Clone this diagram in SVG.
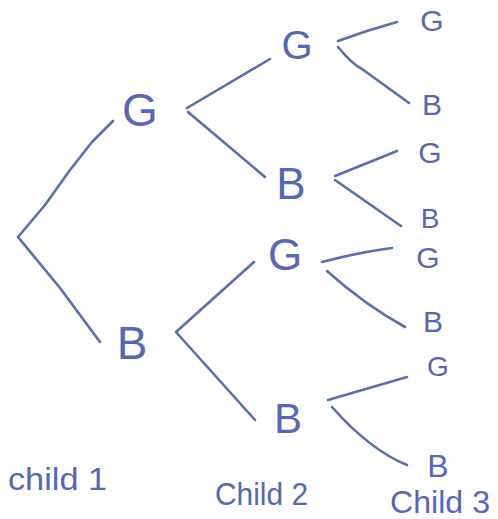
<svg xmlns="http://www.w3.org/2000/svg" width="498" height="519" viewBox="0 0 498 519">
<style>
.e{fill:none;stroke:#5a6cb8;stroke-width:2.6;stroke-linecap:round;stroke-linejoin:round}
text{font-family:"Liberation Sans",Arial,sans-serif;fill:#5667b6;text-anchor:middle}
.lab{text-anchor:start}
</style>
<rect width="498" height="519" fill="#ffffff"/>
<g id="connectors">
<path class="e" d="M113,121 L92,142 L70,170 L45,205 L18,237 L60,288 L100,342"/>
<path class="e" d="M270,59 L187,108"/>
<path class="e" d="M188,112 L265,177"/>
<path class="e" d="M254,262 L176,332 L255,420"/>
<path class="e" d="M338,41 Q368,30 397,22"/>
<path class="e" d="M338,47 Q352,64 362,69 L409,103"/>
<path class="e" d="M335,176 L397,151"/>
<path class="e" d="M335,180 L401,226"/>
<path class="e" d="M322,262 Q360,252 392,248"/>
<path class="e" d="M327,271 Q365,305 405,327"/>
<path class="e" d="M328,400 L407,377"/>
<path class="e" d="M332,407 Q370,450 407,465"/>
</g>
<g id="g1"><text x="140" y="126" font-size="46">G</text></g>
<g id="b1"><text x="132" y="359" font-size="46">B</text></g>
<g id="g2a"><text x="297" y="59" font-size="40">G</text></g>
<g id="b2a"><text x="291" y="199" font-size="44">B</text></g>
<g id="g2b"><text x="285" y="270" font-size="44">G</text></g>
<g id="b2b"><text x="288" y="433" font-size="42">B</text></g>
<g id="g3a"><text x="432" y="31" font-size="30">G</text></g>
<g id="b3a"><text x="432" y="115" font-size="30">B</text></g>
<g id="g3b"><text x="430" y="163" font-size="30">G</text></g>
<g id="b3b"><text x="430" y="228" font-size="28">B</text></g>
<g id="g3c"><text x="428" y="268" font-size="30">G</text></g>
<g id="b3c"><text x="433" y="332" font-size="30">B</text></g>
<g id="g3d"><text x="438" y="376" font-size="28">G</text></g>
<g id="b3d"><text x="438" y="477" font-size="32">B</text></g>
<g id="child1"><text class="lab" x="8" y="490" font-size="32" textLength="99" lengthAdjust="spacingAndGlyphs">child 1</text></g>
<g id="child2"><text class="lab" x="215" y="505" font-size="32" textLength="93" lengthAdjust="spacingAndGlyphs">Child 2</text></g>
<g id="child3"><text class="lab" x="390" y="513" font-size="32" textLength="100" lengthAdjust="spacingAndGlyphs">Child 3</text></g>
</svg>
